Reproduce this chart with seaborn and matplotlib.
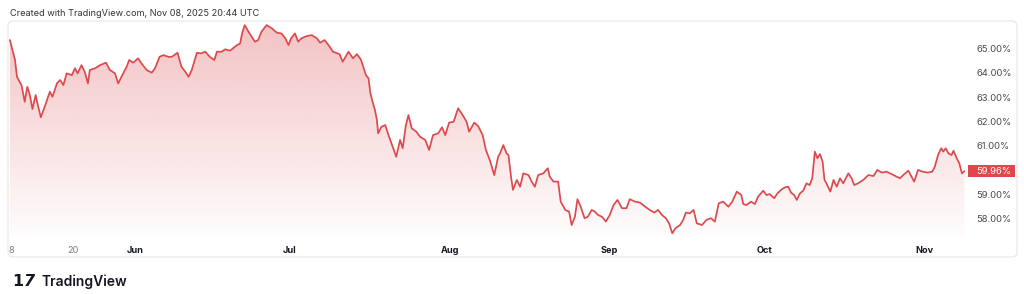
import numpy as np
import pandas as pd
import matplotlib
matplotlib.use("Agg")
import matplotlib.pyplot as plt
import matplotlib.dates as mdates
import matplotlib.transforms as mtransforms
from matplotlib.patches import FancyBboxPatch, Rectangle
import seaborn as sns

# ---------------- data ----------------
timestamps = [
    "05-07 18", "05-08 18", "05-09 03", "05-09 15", "05-10 00", "05-10 15", "05-11 03", "05-11 15",
    "05-12 03", "05-12 18", "05-13 06", "05-13 18", "05-14 12", "05-15 12", "05-16 00", "05-16 21",
    "05-17 12", "05-18 03", "05-18 18", "05-19 18", "05-20 09", "05-20 21", "05-21 15", "05-22 06",
    "05-22 21", "05-23 06", "05-24 06", "05-25 06", "05-26 09", "05-27 03", "05-28 03", "05-28 18",
    "05-29 09", "05-30 09", "05-30 21", "05-31 15", "06-01 15", "06-02 06", "06-03 06", "06-04 06",
    "06-04 21", "06-05 18", "06-06 12", "06-07 12", "06-08 03", "06-09 06", "06-10 00", "06-10 18",
    "06-11 09", "06-12 00", "06-13 00", "06-13 18", "06-14 15", "06-15 12", "06-16 09", "06-16 21",
    "06-17 18", "06-18 12", "06-19 09", "06-20 00", "06-20 18", "06-21 09", "06-21 18", "06-22 06",
    "06-23 00", "06-23 15", "06-24 06", "06-24 21", "06-25 12", "06-26 12", "06-27 12", "06-28 12",
    "06-29 09", "06-30 03", "06-30 18", "07-01 06", "07-02 00", "07-02 15", "07-03 06", "07-04 06",
    "07-05 06", "07-06 06", "07-06 21", "07-07 18", "07-08 12", "07-09 09", "07-10 15", "07-11 06",
    "07-12 09", "07-13 06", "07-14 00", "07-14 18", "07-15 06", "07-15 18", "07-16 06", "07-16 15",
    "07-17 03", "07-17 12", "07-17 21", "07-18 03", "07-18 18", "07-19 12", "07-20 03", "07-20 21",
    "07-21 15", "07-22 09", "07-22 21", "07-23 12", "07-24 00", "07-24 15", "07-25 12", "07-26 06",
    "07-27 06", "07-28 00", "07-28 18", "07-29 18", "07-30 12", "07-31 03", "07-31 21", "08-01 18",
    "08-02 15", "08-03 12", "08-04 06", "08-04 18", "08-05 18", "08-06 12", "08-07 09", "08-08 00",
    "08-08 18", "08-09 15", "08-10 09", "08-10 18", "08-11 09", "08-12 00", "08-12 09", "08-12 21",
    "08-13 06", "08-14 00", "08-14 15", "08-15 06", "08-16 06", "08-16 21", "08-17 12", "08-18 03",
    "08-19 03", "08-20 00", "08-20 09", "08-21 03", "08-22 00", "08-22 12", "08-23 09", "08-24 03",
    "08-24 15", "08-25 06", "08-25 18", "08-26 09", "08-27 03", "08-27 18", "08-28 12", "08-29 03",
    "08-29 18", "08-30 12", "08-31 06", "09-01 00", "09-01 18", "09-02 12", "09-03 09", "09-04 06",
    "09-04 21", "09-05 21", "09-06 21", "09-07 21", "09-08 18", "09-09 15", "09-10 09", "09-11 03",
    "09-11 21", "09-12 12", "09-13 03", "09-13 18", "09-14 15", "09-15 06", "09-15 18", "09-16 12",
    "09-17 06", "09-17 21", "09-18 21", "09-19 18", "09-20 15", "09-21 09", "09-22 03", "09-23 00",
    "09-24 00", "09-24 18", "09-25 15", "09-26 12", "09-26 21", "09-27 12", "09-28 09", "09-29 03",
    "09-29 18", "09-30 18", "10-01 09", "10-02 00", "10-02 21", "10-03 12", "10-04 09", "10-05 00",
    "10-05 15", "10-06 03", "10-06 18", "10-07 06", "10-07 21", "10-08 12", "10-09 03", "10-09 18",
    "10-10 06", "10-10 18", "10-11 06", "10-11 18", "10-12 06", "10-12 15", "10-13 00", "10-13 18",
    "10-14 09", "10-15 00", "10-15 15", "10-16 06", "10-17 06", "10-17 21", "10-18 09", "10-19 03",
    "10-20 03", "10-21 03", "10-22 03", "10-22 21", "10-23 18", "10-24 15", "10-25 15", "10-26 15",
    "10-27 06", "10-27 21", "10-28 21", "10-29 12", "10-30 00", "10-30 18", "10-31 15", "11-01 15",
    "11-02 12", "11-03 00", "11-03 15", "11-04 06", "11-04 15", "11-05 03", "11-05 15", "11-06 06",
    "11-06 15", "11-07 06", "11-07 18", "11-08 06", "11-08 18",
]
ratio_pct = [
    65.34, 64.52, 63.83, 63.63, 63.49, 62.81, 63.42, 63.08,
    62.51, 63.08, 62.60, 62.17, 62.60, 63.22, 63.01, 63.56,
    63.70, 63.49, 63.97, 63.90, 64.18, 63.97, 64.31, 64.04,
    63.56, 64.11, 64.18, 64.31, 64.41, 64.11, 63.97, 63.56,
    63.83, 64.24, 64.52, 64.41, 64.59, 64.38, 64.11, 64.00,
    64.18, 64.65, 64.72, 64.65, 64.65, 64.82, 64.24, 64.04,
    63.83, 64.11, 64.82, 64.79, 64.86, 64.65, 64.52, 64.86,
    64.86, 64.96, 64.90, 65.00, 65.13, 65.20, 65.61, 65.95,
    65.68, 65.47, 65.27, 65.34, 65.68, 65.95, 65.82, 65.64,
    65.61, 65.41, 65.13, 65.41, 65.61, 65.27, 65.41, 65.50,
    65.54, 65.41, 65.23, 65.34, 65.13, 64.86, 64.76, 64.45,
    64.86, 64.59, 64.76, 64.55, 64.24, 63.90, 63.77, 63.15,
    62.74, 62.47, 62.06, 61.51, 61.78, 61.85, 61.44, 60.99,
    60.55, 61.24, 60.90, 61.85, 62.26, 61.72, 61.58, 61.37,
    61.24, 60.83, 61.44, 61.51, 61.76, 61.44, 61.95, 61.99,
    62.54, 62.26, 61.99, 61.58, 61.95, 61.81, 61.44, 60.83,
    60.42, 59.80, 60.55, 60.69, 61.03, 60.69, 60.62, 59.73,
    59.19, 59.60, 59.32, 59.87, 59.80, 59.53, 59.32, 59.80,
    59.87, 60.08, 59.73, 59.53, 59.53, 58.71, 58.37, 58.30,
    57.75, 58.09, 58.81, 58.50, 58.03, 58.09, 58.37, 58.30,
    58.16, 58.09, 57.89, 58.16, 58.57, 58.78, 58.44, 58.44,
    58.81, 58.71, 58.67, 58.50, 58.37, 58.26, 58.37, 58.16,
    58.03, 57.82, 57.41, 57.62, 57.75, 57.96, 58.26, 58.23,
    58.37, 57.82, 57.75, 57.96, 58.03, 57.89, 58.64, 58.71,
    58.50, 58.71, 59.12, 58.98, 58.61, 58.57, 58.71, 58.61,
    58.91, 59.16, 58.98, 59.02, 58.85, 59.05, 59.22, 59.30,
    59.32, 59.08, 58.98, 58.78, 59.05, 59.16, 59.46, 59.39,
    59.67, 60.76, 60.49, 60.66, 60.35, 59.60, 59.46, 59.12,
    59.60, 59.32, 59.67, 59.46, 59.87, 59.67, 59.39, 59.46,
    59.60, 59.80, 59.76, 60.01, 59.90, 59.94, 59.84, 59.73,
    59.67, 59.80, 59.98, 59.73, 59.53, 60.01, 59.94, 59.90,
    59.94, 60.14, 60.62, 60.90, 60.76, 60.90, 60.69, 60.62,
    60.80, 60.49, 60.28, 59.87, 59.96,
]
last_value = 59.96
ytick_values = [58, 59, 60, 61, 62, 63, 64, 65]
xtick_dates = ["2025-05-08", "2025-05-20", "2025-06-01", "2025-07-01",
               "2025-08-01", "2025-09-01", "2025-10-01", "2025-11-01"]
xtick_labels = ["8", "20", "Jun", "Jul", "Aug", "Sep", "Oct", "Nov"]
title_text = "Created with TradingView.com, Nov 08, 2025 20:44 UTC"
brand_text = "TradingView"

# ---------------- style ----------------
LINE = "#dc4a4e"
TAG = "#e0474c"
sns.set_theme(style="white")
plt.rcParams["font.family"] = ["Inter", "DejaVu Sans"]

df = pd.DataFrame({
    "time": pd.to_datetime(["2025-" + t for t in timestamps], format="%Y-%m-%d %H"),
    "value": ratio_pct,
})

W, H = 1024, 294
fig = plt.figure(figsize=(W / 100, H / 100), dpi=100)
fig.patch.set_facecolor("white")
ax = fig.add_axes([8 / W, 1 - 236 / H, 960 / W, 215 / H])

ref = pd.Timestamp("2025-06-01")
x0 = ref - pd.Timedelta(days=127 / 5.16)
x1 = ref + pd.Timedelta(days=833 / 5.16)
y0, y1 = 57.30, 66.12

# gradient area fill clipped to the region below the line
poly = ax.fill_between(df["time"], df["value"], y0, facecolor="none", edgecolor="none")
rgb = matplotlib.colors.to_rgb(LINE)
alpha = np.linspace(0.015, 0.34, 256)
grad = np.zeros((256, 1, 4))
grad[:, 0, :3] = rgb
grad[:, 0, 3] = alpha
im = ax.imshow(grad, extent=[mdates.date2num(x0), mdates.date2num(x1), y0, y1],
               origin="lower", aspect="auto", interpolation="bilinear", zorder=1)
im.set_clip_path(poly.get_paths()[0], transform=ax.transData)

sns.lineplot(data=df, x="time", y="value", ax=ax, color=LINE, linewidth=1.25, zorder=3)

ax.set_xlim(x0, x1)
ax.set_ylim(y0, y1)
ax.set_xlabel("")
ax.set_ylabel("")
for s in ax.spines.values():
    s.set_visible(False)

ax.set_xticks(pd.to_datetime(xtick_dates))
ax.set_xticklabels(xtick_labels)
ax.tick_params(axis="x", length=0, pad=7.5, labelsize=6.6)
for lab in ax.get_xticklabels():
    if lab.get_text().isdigit():
        lab.set_color("#787b86")
        lab.set_fontweight("normal")
    else:
        lab.set_color("#131722")
        lab.set_fontweight("bold")

ax.yaxis.tick_right()
ax.set_yticks(ytick_values)
ax.set_yticklabels([f"{v:.2f}%" for v in ytick_values])
ax.tick_params(axis="y", length=0, pad=6, labelsize=6.8, labelcolor="#4a4a4a")
for lab in ax.get_yticklabels():
    lab.set_horizontalalignment("left")

# last value tag on the price scale
tr = mtransforms.blended_transform_factory(ax.transAxes, ax.transData)
ax.add_patch(Rectangle((1.0, last_value - 0.24), 47 / 960, 0.48, transform=tr,
                       facecolor=TAG, edgecolor="none", clip_on=False, zorder=5))
ax.text(1.0 + 8 / 960, last_value, f"{last_value:.2f}%", transform=tr, color="white",
        fontsize=6.8, va="center", ha="left", zorder=6, clip_on=False)

# outer frame
fig.patches.append(FancyBboxPatch((0.08, (H - 257) / 100), 10.09, 2.36,
                                  boxstyle="round,pad=0,rounding_size=0.05",
                                  transform=fig.dpi_scale_trans, facecolor="none",
                                  edgecolor="#e6e6e6", linewidth=0.8, zorder=0))

fig.text(10 / W, 1 - 13 / H, title_text, fontsize=6.6, color="#333333", va="center", ha="left")
fig.text(12 / W, 1 - 282 / H, "1", fontsize=11.5, fontweight="heavy", color="#131722",
         va="center", ha="left", family="DejaVu Sans")
fig.text(24 / W, 1 - 282 / H, "7", fontsize=11.5, fontweight="heavy", color="#131722",
         va="center", ha="left", family="DejaVu Sans", style="italic")
fig.text(42 / W, 1 - 282 / H, brand_text, fontsize=10, fontweight="semibold",
         color="#131722", va="center", ha="left")

fig.savefig("out.png", dpi=100, facecolor="white")
